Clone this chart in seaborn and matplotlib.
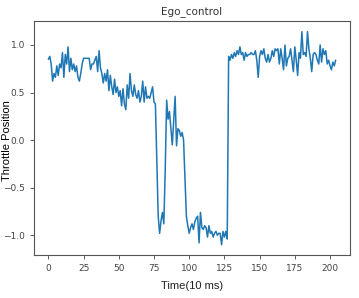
import numpy as np
import pandas as pd
import matplotlib
matplotlib.use("Agg")
import matplotlib.pyplot as plt
import seaborn as sns

title = "Ego_control"
xlabel = "Time(10 ms)"
ylabel = "Throttle Position"

throttle = [
    0.85, 0.88, 0.80, 0.62, 0.70, 0.66, 0.78, 0.68, 0.80, 0.76,
    0.92, 0.66, 0.90, 0.80, 0.98, 0.72, 0.86, 0.74, 0.80, 0.72,
    0.78, 0.66, 0.62, 0.70, 0.80, 0.86, 0.86, 0.86, 0.86, 0.86,
    0.74, 0.80, 0.80, 0.84, 0.88, 0.72, 0.94, 0.76, 0.70, 0.60,
    0.70, 0.62, 0.74, 0.52, 0.68, 0.56, 0.48, 0.64, 0.50, 0.56,
    0.46, 0.52, 0.36, 0.54, 0.38, 0.32, 0.58, 0.44, 0.70, 0.52,
    0.46, 0.58, 0.48, 0.44, 0.52, 0.40, 0.46, 0.62, 0.40, 0.56,
    0.44, 0.46, 0.44, 0.50, 0.56, 0.40, 0.38, -0.20, -0.80, -0.98,
    -0.85, -0.76, -0.88, -0.30, 0.42, 0.22, 0.30, 0.12, -0.05, 0.20,
    0.46, -0.06, 0.12, 0.10, 0.04, 0.08, 0.00, -0.40, -0.80, -0.90,
    -0.98, -0.92, -0.88, -0.94, -0.86, -0.82, -0.80, -1.08, -0.76, -0.92,
    -0.94, -0.90, -0.92, -1.02, -0.90, -0.98, -0.96, -1.02, -0.98, -0.96,
    -1.00, -0.98, -0.98, -1.10, -0.96, -1.02, -0.96, -1.04, 0.88, 0.84,
    0.90, 0.86, 0.92, 0.88, 0.94, 0.90, 0.98, 0.90, 0.92, 0.84,
    0.92, 0.88, 0.90, 0.90, 0.92, 0.90, 0.90, 0.94, 0.84, 0.66,
    0.88, 0.94, 0.90, 0.96, 0.86, 0.82, 0.90, 0.82, 0.86, 0.94,
    0.88, 0.96, 0.94, 0.96, 0.80, 0.96, 0.86, 0.74, 1.00, 0.78,
    0.86, 0.88, 0.96, 0.84, 0.72, 0.98, 0.84, 0.68, 0.92, 0.86,
    1.14, 0.90, 0.92, 0.88, 1.14, 0.96, 0.86, 0.72, 0.90, 0.92,
    0.90, 0.84, 0.80, 1.00, 0.82, 0.96, 0.90, 0.94, 0.80, 0.84,
    0.78, 0.74, 0.82, 0.78, 0.84,
]
time = list(range(len(throttle)))

df = pd.DataFrame({"t": time, "y": throttle})

sns.set_style("ticks")
plt.rcParams["font.family"] = ["DejaVu Sans"]

fig = plt.figure(figsize=(3.59, 2.98), dpi=100)
ax = fig.add_axes([0.0947, 0.1443, 0.8803, 0.7852])
sns.lineplot(data=df, x="t", y="y", ax=ax, color="#1f77b4", linewidth=1.1)

ax.set_xticks([0, 25, 50, 75, 100, 125, 150, 175, 200])
ax.set_yticks([-1.0, -0.5, 0.0, 0.5, 1.0])
ax.set_xlim(-10.2, 214.2)
ax.set_ylim(-1.208, 1.252)
ax.tick_params(labelsize=6.5, colors="#444444", length=3, width=0.6)
for s in ax.spines.values():
    s.set_color("#555555")
    s.set_linewidth(0.8)

ax.set_title(title, fontsize=7.5, color="#333333", pad=5)
ax.set_xlabel(xlabel, fontsize=8, color="#222222", labelpad=6, family="Liberation Sans")
ax.set_ylabel(ylabel, fontsize=8, color="black", family="Liberation Sans")
ax.yaxis.set_label_coords(-0.071, 0.487)

fig.savefig("out.png", dpi=100)
